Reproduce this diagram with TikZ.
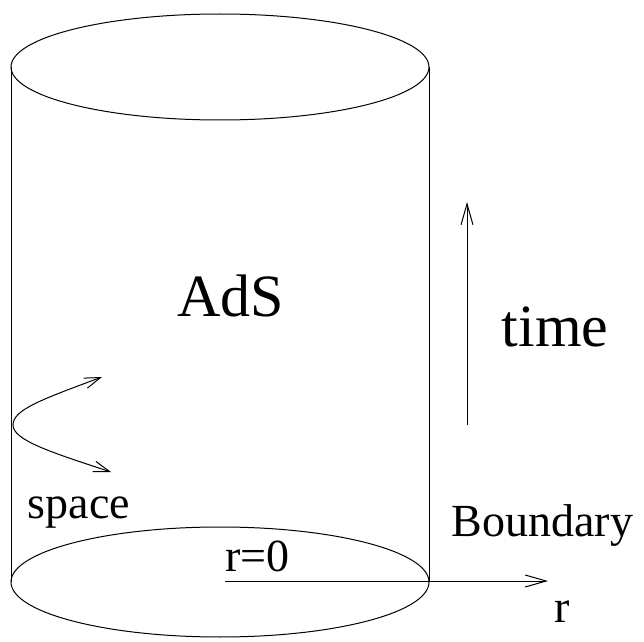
\documentclass[tikz,border=0pt]{standalone}
\usepackage{fontspec}
\setmainfont{Liberation Serif}
\usetikzlibrary{arrows.meta, positioning}

\begin{document}
\begin{tikzpicture}[
    x=0.75pt, y=-0.75pt,
    line width=0.75pt,
    bigtxt/.style={inner sep=0pt, anchor=base, font=\fontsize{45}{54}\selectfont},
    smalltxt/.style={inner sep=0pt, anchor=base, font=\fontsize{34.5}{41}\selectfont},
    arr/.style={-{Straight Barb[length=15.75pt, width=9pt, line width=0.75pt]}},
    darr/.style={{Straight Barb[length=12pt, width=8pt, line width=0.75pt]}-{Straight Barb[length=12pt, width=8pt, line width=0.75pt]}},
]
    \useasboundingbox (0,0) rectangle (644,642);

    % cylinder
    \draw (220,67) ellipse [x radius=209, y radius=53];
    \draw (220,582) ellipse [x radius=209, y radius=55];
    \draw (11,67) -- (11,582);
    \draw (429,67) -- (429,582);

    % labels
    \node[bigtxt] (ads) at (230.5,316) {AdS};
    \node[bigtxt] (time) at (555,347) {time};
    \node[smalltxt] (space) at (79,518) {space};
    \node[smalltxt] (bdry) at (542.5,537) {Boundary};
    \node[smalltxt] (rzero) at (257.5,571) {r=0};
    \node[smalltxt] (r) at (562,622) {r};

    % arrows
    \coordinate (tbot) at (467,425);
    \coordinate (ttop) at (467,202);
    \draw[arr] (tbot) -- (ttop);

    \coordinate (rstart) at (225,581);
    \coordinate (rend) at (548,581);
    \draw[arr] (rstart) -- (rend);

    \coordinate (sup) at (102,377);
    \coordinate (sleft) at (13,425);
    \coordinate (sdown) at (111,472);
    \draw[darr] (sup) .. controls (40,400) and (13,410) .. (sleft)
        .. controls (13,440) and (50,452) .. (sdown);
\end{tikzpicture}
\end{document}
